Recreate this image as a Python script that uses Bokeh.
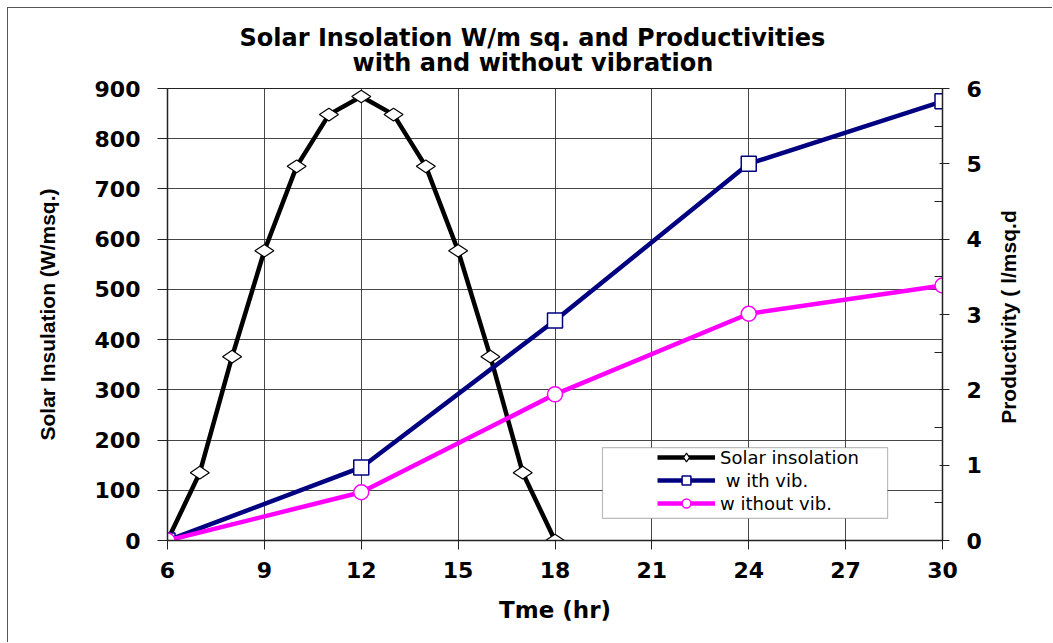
import math
from bokeh.plotting import figure
from bokeh.models import (Range1d, LinearAxis, FixedTicker, Legend,
                          LegendItem, BoxAnnotation, Title)
from bokeh.embed import file_html
from bokeh.resources import INLINE

# ---------------- data ----------------
hours_solar = [6, 7, 8, 9, 10, 11, 12, 13, 14, 15, 16, 17, 18]
solar_insolation = [0, 135, 366, 577, 745, 848, 884, 848, 745, 577, 366, 135, 0]

hours_prod = [6, 12, 18, 24, 30]
with_vib = [0, 0.97, 2.92, 5.0, 5.83]
without_vib = [0, 0.64, 1.94, 3.01, 3.385]

x_ticks = [6, 9, 12, 15, 18, 21, 24, 27, 30]
left_ticks = [0, 100, 200, 300, 400, 500, 600, 700, 800, 900]
right_ticks = [0, 1, 2, 3, 4, 5, 6]
right_minor = [0.5, 1.5, 2.5, 3.5, 4.5, 5.5]

title_line1 = "Solar Insolation W/m sq. and Productivities"
title_line2 = "with and without vibration"
x_label = "Tme (hr)"
left_label = "Solar Insulation (W/msq.)"
right_label = "Productivity ( l/msq.d"
legend_labels = ["Solar insolation", " w ith vib.", "w ithout vib."]

# ---------------- figure ----------------
p = figure(width=1045, height=635, output_backend="svg", toolbar_location=None,
           x_range=Range1d(6, 30), y_range=Range1d(0, 900),
           min_border_left=159, min_border_right=111,
           min_border_top=80, min_border_bottom=103)
p.extra_y_ranges = {"prod": Range1d(0, 6)}
p.background_fill_color = "white"
p.border_fill_color = "white"
p.outline_line_color = "#222222"
p.outline_line_width = 1
p.styles = {"margin-left": "7px", "margin-top": "7px",
            "border-left": "1px solid #555555", "border-top": "1px solid #555555"}

BOLD_FONT = "DejaVu Sans"

# x axis
xa = p.xaxis[0]
xa.ticker = FixedTicker(ticks=x_ticks, minor_ticks=[])
xa.axis_line_color = "#222222"
xa.axis_line_width = 1.5
xa.major_tick_out = 9
xa.major_tick_in = 0
xa.major_tick_line_color = "#222222"
xa.minor_tick_out = 0
xa.minor_tick_in = 0
xa.major_label_standoff = 12
xa.major_label_text_font = BOLD_FONT
xa.major_label_text_font_style = "bold"
xa.major_label_text_font_size = "22px"
xa.major_label_text_color = "black"
xa.axis_label = x_label
xa.axis_label_standoff = 16
xa.axis_label_text_font = BOLD_FONT
xa.axis_label_text_font_style = "bold"
xa.axis_label_text_font_size = "23px"
xa.axis_label_text_color = "black"

# left axis
ya = p.yaxis[0]
ya.ticker = FixedTicker(ticks=left_ticks, minor_ticks=[])
ya.axis_line_color = "#222222"
ya.axis_line_width = 1.5
ya.major_tick_out = 10
ya.major_tick_in = 0
ya.major_tick_line_color = "#222222"
ya.minor_tick_out = 0
ya.minor_tick_in = 0
ya.major_label_standoff = 17
ya.major_label_text_font = BOLD_FONT
ya.major_label_text_font_style = "bold"
ya.major_label_text_font_size = "22px"
ya.major_label_text_color = "black"
ya.axis_label = left_label
ya.axis_label_standoff = 33
ya.axis_label_text_font = "Liberation Sans"
ya.axis_label_text_font_style = "bold"
ya.axis_label_text_font_size = "21px"
ya.axis_label_text_color = "black"

# right axis
ra = LinearAxis(y_range_name="prod",
                ticker=FixedTicker(ticks=right_ticks, minor_ticks=right_minor))
ra.axis_line_color = "#222222"
ra.axis_line_width = 1.5
ra.major_tick_out = 7
ra.major_tick_in = 3
ra.major_tick_line_color = "#222222"
ra.minor_tick_out = 0
ra.minor_tick_in = 8
ra.minor_tick_line_color = "#222222"
ra.major_label_standoff = 17
ra.major_label_text_font = BOLD_FONT
ra.major_label_text_font_style = "bold"
ra.major_label_text_font_size = "22px"
ra.major_label_text_color = "black"
ra.axis_label_standoff = 24
ra.axis_label_text_font = "Liberation Sans"
ra.axis_label_text_font_style = "bold"
ra.axis_label_text_font_size = "21px"
ra.axis_label_text_color = "black"
right_label_text = right_label
try:
    # read bottom-to-top, as in the reference
    ra.axis_label_orientation = math.pi / 2
    try:
        ra.axis_label_align = "start"
        # label is anchored at the bottom of the axis; pad so it sits centred
        right_label_text = "\u00a0" * 20 + right_label
    except Exception:
        pass
except Exception:
    pass
ra.axis_label = right_label_text
p.add_layout(ra, "right")

# grids
p.xgrid.ticker = FixedTicker(ticks=x_ticks, minor_ticks=[])
p.ygrid.ticker = FixedTicker(ticks=left_ticks, minor_ticks=[])
for g in (p.xgrid[0], p.ygrid[0]):
    g.grid_line_color = "#333333"
    g.grid_line_width = 1
    g.grid_line_alpha = 0.9

# ---------------- series ----------------
solar_line = p.line(hours_solar, solar_insolation, line_color="black", line_width=4.5)
solar_pts = p.scatter(hours_solar, solar_insolation, marker="diamond", size=19,
                      angle=math.pi / 2, fill_color="white", line_color="black",
                      line_width=1.2)

wv_line = p.line(hours_prod, with_vib, line_color="#000080", line_width=4.5,
                 y_range_name="prod")
wv_pts = p.scatter(hours_prod, with_vib, marker="square", size=15,
                   fill_color="white", line_color="#000080", line_width=1.5,
                   y_range_name="prod")

wov_line = p.line(hours_prod, without_vib, line_color="#FF00FF", line_width=4.5,
                  y_range_name="prod")
wov_pts = p.scatter(hours_prod, without_vib, marker="circle", size=15,
                    fill_color="white", line_color="#FF00FF", line_width=1.5,
                    y_range_name="prod")

# ---------------- legend ----------------
box = BoxAnnotation(left=19.47, right=28.30, top=185.0, bottom=44.0,
                    fill_color="white", fill_alpha=1.0,
                    line_color="#222222", line_width=1.2, level="overlay")
p.add_layout(box)

legend = Legend(items=[
    LegendItem(label=legend_labels[0], renderers=[solar_line, solar_pts]),
    LegendItem(label=legend_labels[1], renderers=[wv_line, wv_pts]),
    LegendItem(label=legend_labels[2], renderers=[wov_line, wov_pts]),
], location=(490, 26))
legend.padding = 0
legend.margin = 0
legend.spacing = 1
legend.glyph_width = 58
legend.glyph_height = 22
legend.label_height = 22
legend.label_standoff = 5
legend.label_text_font = "DejaVu Sans"
legend.label_text_font_size = "18px"
legend.label_text_color = "black"
legend.background_fill_alpha = 0
legend.border_line_alpha = 0
p.add_layout(legend)

# ---------------- titles ----------------
t2 = Title(text=title_line2, align="left", offset=185, text_font=BOLD_FONT,
           text_font_style="bold", text_font_size="24px", text_color="black",
           standoff=24)
t1 = Title(text=title_line1, align="left", offset=72, text_font=BOLD_FONT,
           text_font_style="bold", text_font_size="24px", text_color="black",
           standoff=-34)
p.add_layout(t2, "above")
p.add_layout(t1, "above")

open("out.html", "w").write(file_html(p, INLINE))
